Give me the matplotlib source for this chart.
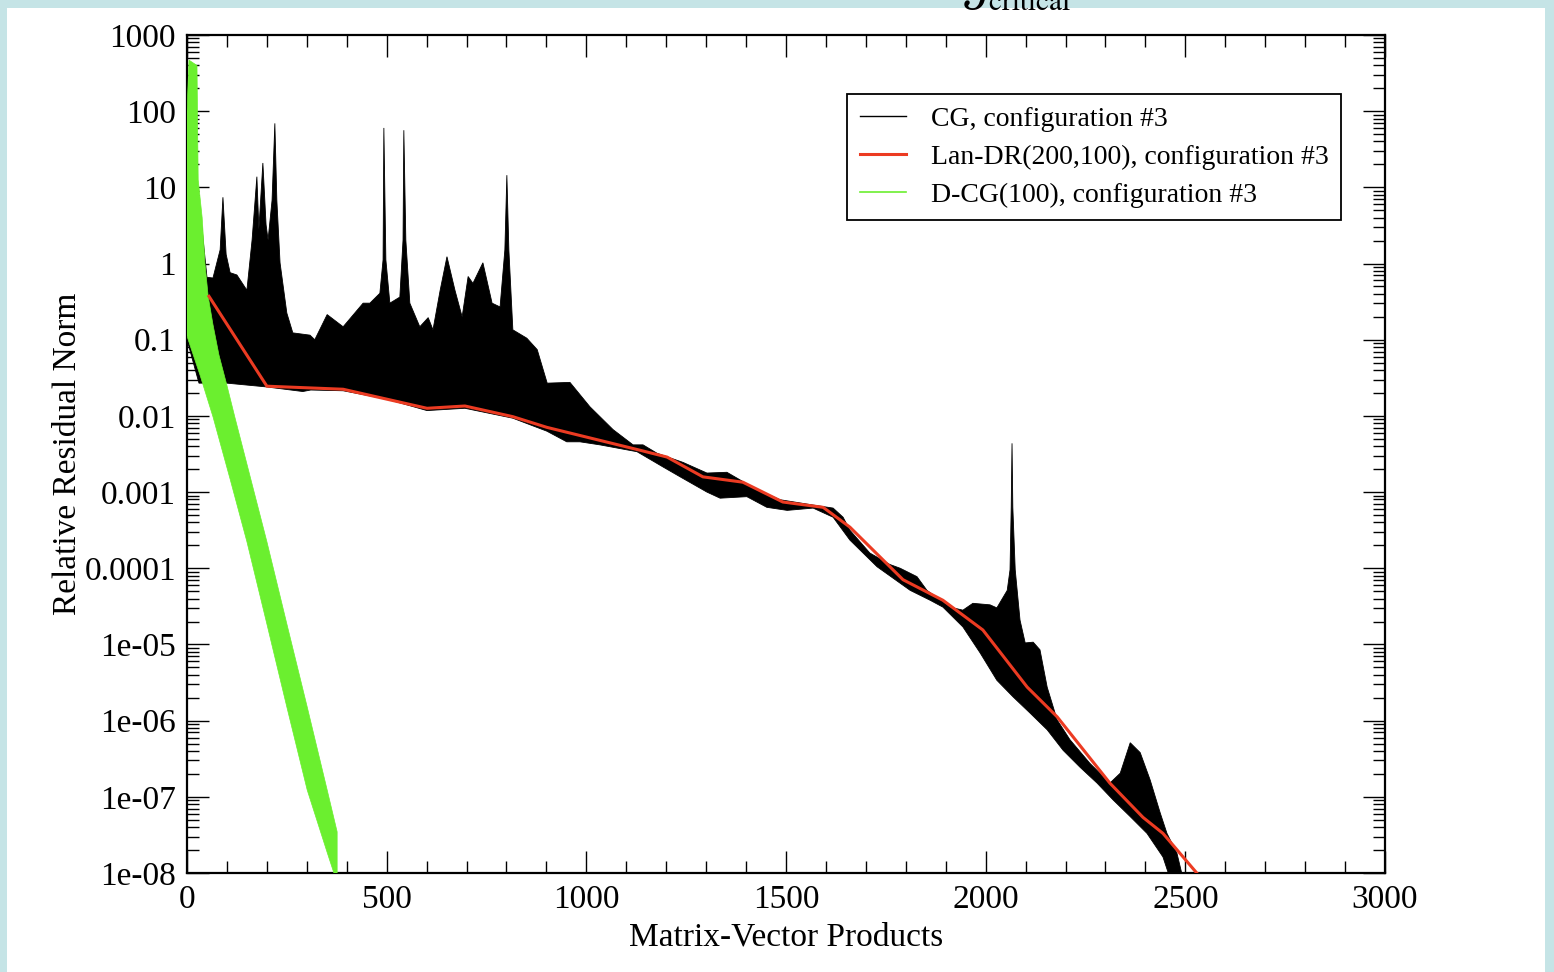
import numpy as np
import matplotlib
matplotlib.use("Agg")
import matplotlib.pyplot as plt
from matplotlib.lines import Line2D
from matplotlib.patches import Rectangle
from matplotlib.ticker import FixedLocator, LogLocator, MultipleLocator, NullFormatter

plt.rcParams["font.family"] = ["Liberation Serif", "DejaVu Serif"]
plt.rcParams["mathtext.fontset"] = "stix"

# ---- data (residual norms stored as powers of ten) ----
# CG: residual oscillates fast, so it is drawn as the band between its envelopes
cg_upper_x = [0, 15, 33, 50, 65, 83, 90, 98, 108, 125, 150, 163, 175, 180, 190, 198,
              203, 213, 220, 225, 233, 250, 265, 308, 320, 351, 391, 441, 458, 483,
              491, 493, 498, 508, 533, 541, 543, 548, 558, 583, 604, 616, 634, 651,
              671, 689, 704, 716, 741, 764, 784, 796, 801, 806, 816, 851, 877, 902,
              959, 1009, 1067, 1117, 1142, 1177, 1242, 1302, 1352, 1385, 1427, 1485,
              1568, 1618, 1643, 1660, 1710, 1760, 1786, 1828, 1853, 1893, 1911, 1943,
              1968, 2011, 2028, 2054, 2061, 2064, 2066, 2068, 2074, 2086, 2099, 2119,
              2136, 2154, 2179, 2211, 2261, 2311, 2337, 2362, 2387, 2412, 2437, 2454,
              2479, 2500]
cg_upper_exp = [1.2, 1.1, 0.70, -0.18, -0.19, 0.18, 0.87, 0.12, -0.12, -0.15, -0.35, 0.31,
                1.14, 0.45, 1.32, 0.51, 0.31, 0.83, 1.84, 0.83, 0.01, -0.65, -0.91,
                -0.94, -1.0, -0.67, -0.83, -0.52, -0.52, -0.39, 0.05, 1.78, 0.05, -0.52,
                -0.44, 0.31, 1.75, 0.31, -0.52, -0.83, -0.71, -0.87, -0.35, 0.09, -0.35,
                -0.70, -0.17, -0.26, 0.01, -0.52, -0.57, 0.18, 1.16, 0.18, -0.87, -0.98,
                -1.13, -1.57, -1.56, -1.88, -2.18, -2.38, -2.38, -2.49, -2.61, -2.75,
                -2.74, -2.84, -2.97, -3.10, -3.17, -3.21, -3.33, -3.50, -3.80, -3.95,
                -4.00, -4.11, -4.29, -4.44, -4.51, -4.55, -4.46, -4.48, -4.52, -4.29,
                -4.02, -3.20, -2.36, -3.20, -4.02, -4.68, -4.98, -4.97, -5.07, -5.56,
                -5.99, -6.25, -6.56, -6.82, -6.69, -6.29, -6.42, -6.78, -7.21, -7.48,
                -7.74, -8.2]
cg_lower_x = [0, 30, 100, 200, 290, 310, 391, 500, 601, 696, 816, 901, 951, 984, 1034,
              1127, 1192, 1235, 1302, 1335, 1402, 1452, 1503, 1568, 1618, 1660, 1728,
              1811, 1861, 1893, 1943, 1986, 2028, 2069, 2111, 2154, 2194, 2236, 2279,
              2319, 2362, 2404, 2444, 2470]
cg_lower_exp = [-1.0, -1.57, -1.57, -1.62, -1.68, -1.66, -1.67, -1.78, -1.93, -1.90,
                -2.03, -2.20, -2.34, -2.34, -2.38, -2.47, -2.67, -2.80, -3.00, -3.08,
                -3.06, -3.20, -3.24, -3.21, -3.33, -3.63, -3.98, -4.29, -4.42, -4.51,
                -4.77, -5.11, -5.47, -5.69, -5.90, -6.12, -6.39, -6.61, -6.82, -7.04,
                -7.26, -7.48, -7.79, -8.2]

# Lan-DR(200,100)
lan_x = [55, 200, 391, 601, 696, 816, 901, 1134, 1202, 1292, 1392, 1492, 1593, 1660,
         1793, 1893, 1993, 2104, 2179, 2311, 2394, 2444, 2540]
lan_exp = [-0.43, -1.61, -1.65, -1.90, -1.87, -2.01, -2.15, -2.45, -2.54, -2.80, -2.87,
           -3.13, -3.20, -3.46, -4.15, -4.42, -4.81, -5.56, -5.95, -6.82, -7.27, -7.48,
           -8.07]

# D-CG(100): oscillation band
dcg_upper_x = [0, 5, 25, 28, 38, 45, 53, 65, 80, 100, 120, 200, 250, 301, 351, 376, 376]
dcg_upper_exp = [2.0, 2.67, 2.6, 1.1, 0.6, 0.0, -0.43, -0.8, -1.2, -1.6, -2.02,
                 -3.65, -4.73, -5.82, -6.91, -7.46, -8.05]
dcg_lower_x = [0, 3, 33, 65, 108, 150, 200, 250, 301, 351, 371]
dcg_lower_exp = [-0.95, -1.0, -1.47, -2.01, -2.83, -3.65, -4.73, -5.82, -6.91, -7.73, -8.05]

labels = ["CG, configuration #3", "Lan-DR(200,100), configuration #3",
          "D-CG(100), configuration #3"]
x_ticks = [0, 500, 1000, 1500, 2000, 2500, 3000]
y_ticks = [1e3, 1e2, 1e1, 1, 1e-1, 1e-2, 1e-3, 1e-4, 1e-5, 1e-6, 1e-7, 1e-8]
y_ticklabels = ["1000", "100", "10", "1", "0.1", "0.01", "0.001", "0.0001",
                "1e-05", "1e-06", "1e-07", "1e-08"]

# ---- figure ----
W, H = 1554, 972
fig = plt.figure(figsize=(W / 100, H / 100), dpi=100)
fig.patch.set_facecolor("#c5e4e6")
fig.add_artist(Rectangle((7 / W, 0), (1545 - 7) / W, 1 - 8 / H,
                         transform=fig.transFigure, facecolor="white",
                         edgecolor="none", zorder=0))
fig.text(962 / W, 1 - 14 / H, r"$\mathcal{J}_{\mathrm{critical}}$", fontsize=30,
         ha="left", va="bottom", zorder=1)

ax = fig.add_axes([187 / W, 1 - 873 / H, (1385 - 187) / W, (873 - 35) / H])
ax.set_facecolor("white")
ax.set_yscale("log")
ax.set_xlim(0, 3000)
ax.set_ylim(1e-8, 1e3)

cg_px = np.concatenate([cg_upper_x, cg_lower_x[::-1]])
cg_py = 10.0 ** np.concatenate([cg_upper_exp, cg_lower_exp[::-1]])
ax.fill(cg_px, cg_py, color="black", lw=0.6, zorder=2)

dcg_px = np.concatenate([dcg_upper_x, dcg_lower_x[::-1]])
dcg_py = 10.0 ** np.concatenate([dcg_upper_exp, dcg_lower_exp[::-1]])
ax.fill(dcg_px, dcg_py, color="#6bef2f", lw=0.5, zorder=3)

ax.plot(lan_x, 10.0 ** np.array(lan_exp), color="#ec3b22", lw=2.2, zorder=4)

# axes styling
for sp in ax.spines.values():
    sp.set_linewidth(1.6)
ax.xaxis.set_major_locator(FixedLocator(x_ticks))
ax.xaxis.set_minor_locator(MultipleLocator(100))
ax.set_xticklabels([str(t) for t in x_ticks])
ax.yaxis.set_major_locator(FixedLocator(y_ticks))
ax.set_yticklabels(y_ticklabels)
ax.yaxis.set_minor_locator(LogLocator(base=10, subs=np.arange(2, 10), numticks=50))
ax.yaxis.set_minor_formatter(NullFormatter())
ax.tick_params(which="both", direction="in", top=True, right=True, width=1.0,
               labelsize=24, pad=8)
ax.tick_params(which="major", length=16)
ax.tick_params(which="minor", length=8.5)

ax.set_xlabel("Matrix-Vector Products", fontsize=24, labelpad=5)
ax.set_ylabel("Relative Residual Norm", fontsize=24, labelpad=1)

handles = [Line2D([], [], color="black", lw=1.0),
           Line2D([], [], color="#ec3b22", lw=2.2),
           Line2D([], [], color="#6bef2f", lw=1.2)]
leg = ax.legend(handles, labels, loc="upper right",
                bbox_to_anchor=((1341 - 187) / 1198, (873 - 94) / 838),
                borderaxespad=0, fontsize=20, fancybox=False, framealpha=1,
                edgecolor="black", handlelength=1.65, handletextpad=0.9,
                borderpad=0.45, labelspacing=0.45)
leg.get_frame().set_linewidth(1.3)

fig.savefig("out.png", dpi=100, facecolor=fig.get_facecolor())
